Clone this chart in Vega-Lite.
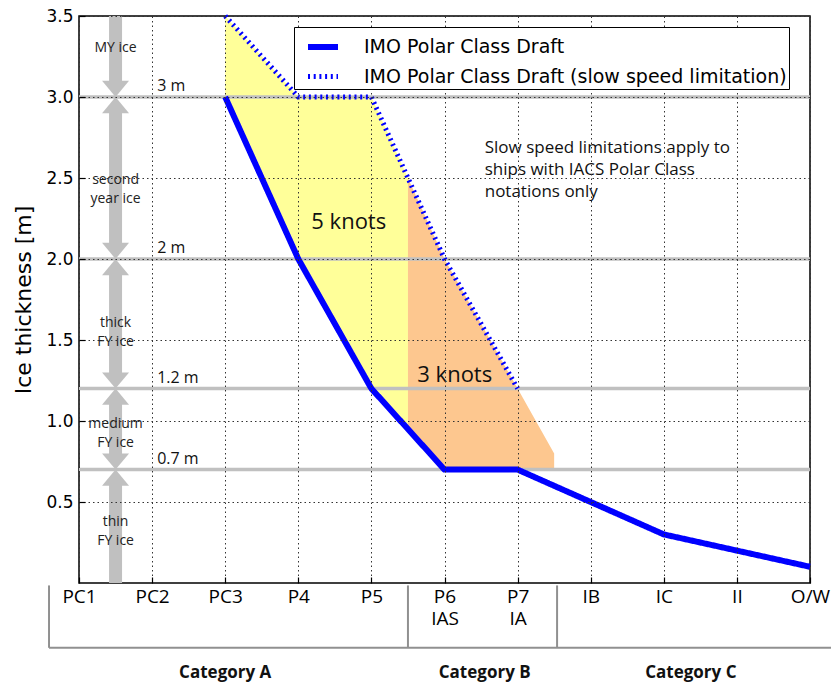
{
  "$schema": "https://vega.github.io/schema/vega-lite/v6.json",
  "width": 731,
  "height": 567,
  "autosize": {"type": "none"},
  "padding": {"left": 79, "top": 16, "right": 21, "bottom": 100},
  "background": "white",
  "config": {
    "view": {"stroke": "#000", "strokeWidth": 1.5},
    "text": {"font": "Open Sans", "color": "#111"}
  },
  "datasets": {
    "zones": [
      {"zone": "5 knots", "pos": 2, "thk": 3.5, "thk2": 3.0},
      {"zone": "5 knots", "pos": 3, "thk": 3.0, "thk2": 2.0},
      {"zone": "5 knots", "pos": 4, "thk": 3.0, "thk2": 1.2},
      {"zone": "5 knots", "pos": 4.5, "thk": 2.5, "thk2": 0.95},
      {"zone": "3 knots", "pos": 4.5, "thk": 2.5, "thk2": 0.95},
      {"zone": "3 knots", "pos": 5, "thk": 2.0, "thk2": 0.7},
      {"zone": "3 knots", "pos": 6, "thk": 1.2, "thk2": 0.7},
      {"zone": "3 knots", "pos": 6.5, "thk": 0.8, "thk2": 0.7}
    ],
    "draft": [
      {"series": "IMO Polar Class Draft", "pos": 2, "thk": 3.0},
      {"series": "IMO Polar Class Draft", "pos": 3, "thk": 2.0},
      {"series": "IMO Polar Class Draft", "pos": 4, "thk": 1.2},
      {"series": "IMO Polar Class Draft", "pos": 5, "thk": 0.7},
      {"series": "IMO Polar Class Draft", "pos": 6, "thk": 0.7},
      {"series": "IMO Polar Class Draft", "pos": 7, "thk": 0.5},
      {"series": "IMO Polar Class Draft", "pos": 8, "thk": 0.3},
      {"series": "IMO Polar Class Draft", "pos": 9, "thk": 0.2},
      {"series": "IMO Polar Class Draft", "pos": 10, "thk": 0.1},
      {"series": "IMO Polar Class Draft (slow speed limitation)", "pos": 2, "thk": 3.5},
      {"series": "IMO Polar Class Draft (slow speed limitation)", "pos": 3, "thk": 3.0},
      {"series": "IMO Polar Class Draft (slow speed limitation)", "pos": 4, "thk": 3.0},
      {"series": "IMO Polar Class Draft (slow speed limitation)", "pos": 5, "thk": 2.0},
      {"series": "IMO Polar Class Draft (slow speed limitation)", "pos": 6, "thk": 1.2}
    ],
    "thresholds": [
      {"thk": 3.0, "label": "3 m"},
      {"thk": 2.0, "label": "2 m"},
      {"thk": 1.2, "label": "1.2 m"},
      {"thk": 0.7, "label": "0.7 m"}
    ],
    "shafts": [
      {"thk": 3.5, "thk2": 3.08},
      {"thk": 2.92, "thk2": 2.08},
      {"thk": 1.92, "thk2": 1.28},
      {"thk": 1.12, "thk2": 0.78},
      {"thk": 0.62, "thk2": 0}
    ],
    "ice": [
      {"thk": 3.3, "label": "MY ice"},
      {"thk": 2.49, "label": "second\nyear ice"},
      {"thk": 1.605, "label": "thick\nFY ice"},
      {"thk": 0.98, "label": "medium\nFY ice"},
      {"thk": 0.375, "label": "thin\nFY ice"}
    ],
    "knots": [
      {"pos": 3.69, "thk": 2.185, "label": "5 knots"},
      {"pos": 5.14, "thk": 1.243, "label": "3 knots"}
    ],
    "note": [
      {"pos": 5.55, "thk": 2.652, "label": "Slow speed limitations apply to\nships with IACS Polar Class\nnotations only"}
    ],
    "brackets": [
      {"pos": -0.41, "pos2": -0.41, "thk": -0.015, "thk2": -0.4},
      {"pos": 4.5, "pos2": 4.5, "thk": -0.015, "thk2": -0.4},
      {"pos": 6.54, "pos2": 6.54, "thk": -0.015, "thk2": -0.4},
      {"pos": -0.41, "pos2": 10.4, "thk": -0.4, "thk2": -0.4}
    ],
    "categories": [
      {"pos": 2.0, "label": "Category A"},
      {"pos": 5.55, "label": "Category B"},
      {"pos": 8.37, "label": "Category C"}
    ]
  },
  "layer": [
    {
      "data": {"name": "zones"},
      "mark": {"type": "area", "opacity": 1},
      "encoding": {
        "x": {
          "field": "pos",
          "type": "quantitative",
          "scale": {"domain": [0, 10], "nice": false, "zero": false},
          "axis": {
            "title": null,
            "values": [0, 1, 2, 3, 4, 5, 6, 7, 8, 9, 10],
            "labelExpr": "['PC1','PC2','PC3','P4','P5',['P6','IAS'],['P7','IA'],'IB','IC','II','O/W'][datum.value]",
            "labelFont": "Open Sans",
            "labelFontSize": 19,
            "labelLineHeight": 22,
            "labelColor": "#000",
            "labelPadding": 10,
            "labelFlush": false,
            "labelOverlap": false,
            "domain": false,
            "ticks": true,
            "tickSize": -6,
            "tickColor": "#000",
            "tickWidth": 1.2,
            "grid": true,
            "gridDash": [1.5, 3],
            "gridColor": "#333",
            "gridWidth": 1,
            "gridOpacity": 1,
            "zindex": 1
          }
        },
        "y": {
          "field": "thk",
          "type": "quantitative",
          "scale": {"domain": [0, 3.5], "nice": false, "zero": false},
          "axis": {
            "title": "Ice thickness [m]",
            "values": [0.5, 1, 1.5, 2, 2.5, 3, 3.5],
            "format": ".1f",
            "labelFont": "DejaVu Sans",
            "labelFontSize": 17,
            "labelColor": "#000",
            "labelPadding": 12,
            "labelFlush": false,
            "labelOverlap": false,
            "domain": false,
            "ticks": true,
            "tickSize": -6,
            "tickColor": "#000",
            "tickWidth": 1.2,
            "grid": true,
            "gridDash": [1.5, 3],
            "gridColor": "#333",
            "gridWidth": 1,
            "gridOpacity": 1,
            "zindex": 1,
            "titleFont": "DejaVu Sans",
            "titleFontSize": 22,
            "titleFontWeight": "normal",
            "titleColor": "#000",
            "titlePadding": 10
          }
        },
        "y2": {"field": "thk2"},
        "color": {
          "field": "zone",
          "type": "nominal",
          "scale": {"domain": ["5 knots", "3 knots"], "range": ["#ffff99", "#fdc78f"]},
          "legend": null
        }
      }
    },
    {
      "data": {"name": "thresholds"},
      "mark": {"type": "rule", "color": "#c0c0c0", "strokeWidth": 3.5},
      "encoding": {
        "y": {"field": "thk", "type": "quantitative"}
      }
    },
    {
      "data": {"name": "thresholds"},
      "mark": {"type": "text", "align": "left", "baseline": "alphabetic", "dy": -6, "fontSize": 16},
      "encoding": {
        "x": {"datum": 1.07},
        "y": {"field": "thk", "type": "quantitative"},
        "text": {"field": "label", "type": "nominal"}
      }
    },
    {
      "data": {"name": "shafts"},
      "mark": {"type": "rule", "color": "#c0c0c0", "strokeWidth": 13, "strokeCap": "butt"},
      "encoding": {
        "x": {"datum": 0.5},
        "y": {"field": "thk", "type": "quantitative"},
        "y2": {"field": "thk2"}
      }
    },
    {
      "data": {"name": "thresholds"},
      "mark": {"type": "point", "shape": "M-1,-1.2L1,-1.2L0,0Z", "filled": true, "opacity": 1, "color": "#c0c0c0", "size": 729, "strokeWidth": 0},
      "encoding": {
        "x": {"datum": 0.5},
        "y": {"field": "thk", "type": "quantitative"}
      }
    },
    {
      "data": {"name": "thresholds"},
      "mark": {"type": "point", "shape": "M-1,1.2L1,1.2L0,0Z", "filled": true, "opacity": 1, "color": "#c0c0c0", "size": 729, "strokeWidth": 0},
      "encoding": {
        "x": {"datum": 0.5},
        "y": {"field": "thk", "type": "quantitative"}
      }
    },
    {
      "data": {"name": "ice"},
      "mark": {"type": "text", "align": "center", "baseline": "middle", "fontSize": 14, "lineBreak": "\n", "lineHeight": 19, "color": "#222"},
      "encoding": {
        "x": {"datum": 0.5},
        "y": {"field": "thk", "type": "quantitative"},
        "text": {"field": "label", "type": "nominal"}
      }
    },
    {
      "data": {"name": "draft"},
      "mark": {"type": "line", "color": "#0000ff", "strokeCap": "butt"},
      "encoding": {
        "x": {"field": "pos", "type": "quantitative"},
        "y": {"field": "thk", "type": "quantitative"},
        "strokeDash": {
          "field": "series",
          "type": "nominal",
          "scale": {
            "domain": ["IMO Polar Class Draft", "IMO Polar Class Draft (slow speed limitation)"],
            "range": [[1, 0], [2, 3.7]]
          },
          "legend": {
            "title": null,
            "orient": "none",
            "legendX": 215,
            "legendY": 11,
            "labelFont": "DejaVu Sans",
            "labelFontSize": 19,
            "labelColor": "#000",
            "labelLimit": 0,
            "labelOffset": 23,
            "symbolType": "stroke",
            "symbolSize": 900,
            "symbolOffset": 9,
            "symbolStrokeColor": "#0000ff",
            "strokeColor": "#000",
            "fillColor": "#fff",
            "padding": 2,
            "rowPadding": -9,
            "zindex": 2
          }
        },
        "strokeWidth": {
          "field": "series",
          "type": "nominal",
          "scale": {
            "domain": ["IMO Polar Class Draft", "IMO Polar Class Draft (slow speed limitation)"],
            "range": [6, 5]
          }
        }
      }
    },
    {
      "data": {"name": "knots"},
      "mark": {"type": "text", "align": "center", "baseline": "alphabetic", "fontSize": 22},
      "encoding": {
        "x": {"field": "pos", "type": "quantitative"},
        "y": {"field": "thk", "type": "quantitative"},
        "text": {"field": "label", "type": "nominal"}
      }
    },
    {
      "data": {"name": "note"},
      "mark": {"type": "text", "align": "left", "baseline": "alphabetic", "fontSize": 17, "lineBreak": "\n", "lineHeight": 22},
      "encoding": {
        "x": {"field": "pos", "type": "quantitative"},
        "y": {"field": "thk", "type": "quantitative"},
        "text": {"field": "label", "type": "nominal"}
      }
    },
    {
      "data": {"name": "brackets"},
      "mark": {"type": "rule", "color": "#909090", "strokeWidth": 2},
      "encoding": {
        "x": {"field": "pos", "type": "quantitative"},
        "x2": {"field": "pos2"},
        "y": {"field": "thk", "type": "quantitative"},
        "y2": {"field": "thk2"}
      }
    },
    {
      "data": {"name": "categories"},
      "mark": {"type": "text", "align": "center", "baseline": "alphabetic", "fontSize": 17, "fontWeight": "bold"},
      "encoding": {
        "x": {"field": "pos", "type": "quantitative"},
        "y": {"datum": -0.585},
        "text": {"field": "label", "type": "nominal"}
      }
    }
  ]
}
